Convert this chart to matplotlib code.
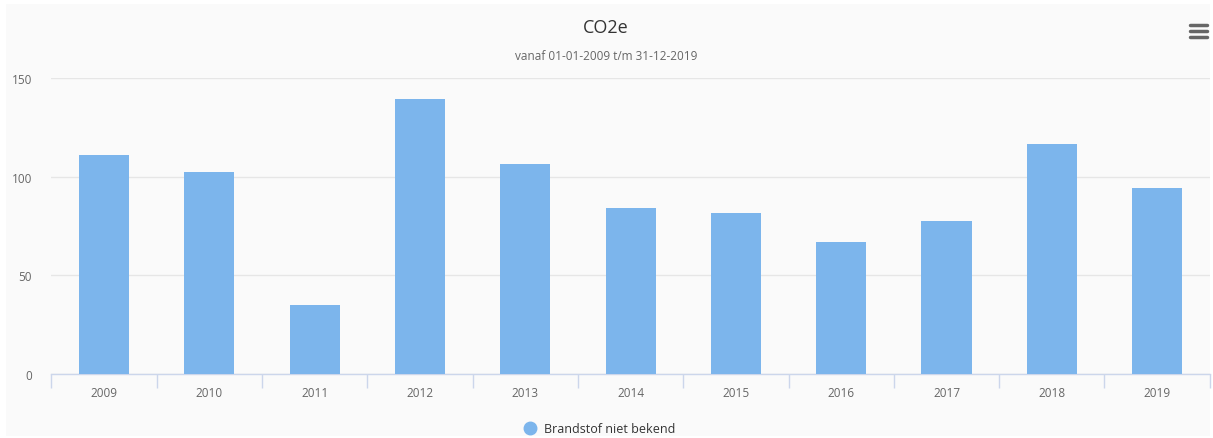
import matplotlib
matplotlib.use('Agg')
import matplotlib.pyplot as plt
from matplotlib.patches import Rectangle

plt.rcParams['font.family'] = ['Open Sans', 'DejaVu Sans']

# Data
years = ['2009', '2010', '2011', '2012', '2013', '2014', '2015', '2016', '2017', '2018', '2019']
co2e = [111, 102.5, 35, 139.5, 106.5, 84.3, 81.7, 67, 77.7, 116.8, 94.4]
yticks = [0, 50, 100, 150]
series_name = 'Brandstof niet bekend'

W, H = 1213, 439
fig = plt.figure(figsize=(W / 100, H / 100), dpi=100)
fig.patch.set_facecolor('white')

# light panel behind the chart
fig.patches.append(Rectangle((6 / W, 2 / H), 1204 / W, 432 / H,
                             transform=fig.transFigure, facecolor='#fafafa',
                             edgecolor='none', zorder=-10))

ax = fig.add_axes([51.3 / W, 64 / H, 1158.5 / W, 296 / H])
ax.set_facecolor('none')

x = range(len(years))
ax.bar(x, co2e, width=0.475, color='#7cb5ec', zorder=3)

ax.set_xlim(-0.5, len(years) - 0.5)
ax.set_ylim(0, 150)
ax.set_yticks(yticks)
ax.set_yticklabels([str(v) for v in yticks])
ax.yaxis.grid(True, color='#e6e6e6', linewidth=1)
ax.tick_params(axis='y', length=0, pad=14, labelsize=8.5, labelcolor='#666666')

ax.set_xticks(list(x))
ax.set_xticklabels(years)
ax.tick_params(axis='x', length=0, pad=9, labelsize=8.5, labelcolor='#666666')
# tick marks at category boundaries
ax.set_xticks([i - 0.5 for i in range(len(years) + 1)], minor=True)
ax.tick_params(axis='x', which='minor', length=10, width=1, color='#ccd6eb')

for s in ['top', 'right', 'left']:
    ax.spines[s].set_visible(False)
ax.spines['bottom'].set_color('#ccd6eb')
ax.spines['bottom'].set_linewidth(1)

# titles
fig.text(606 / W, 1 - 28 / H, 'CO2e', ha='center', va='center', fontsize=13, color='#333333')
fig.text(606 / W, 1 - 56 / H, 'vanaf 01-01-2009 t/m 31-12-2019', ha='center', va='center',
         fontsize=8.5, color='#666666')

# legend
fig.lines.append(plt.Line2D([530 / W], [1 - 429 / H], marker='o', markersize=9,
                            color='#7cb5ec', transform=fig.transFigure))
fig.text(544 / W, 1 - 430 / H, series_name, ha='left', va='center', fontsize=9, color='#333333')

# menu icon
for yy in [26, 32, 38]:
    fig.lines.append(plt.Line2D([1190 / W, 1207 / W], [1 - yy / H, 1 - yy / H],
                                color='#666666', linewidth=2.5, solid_capstyle='round',
                                transform=fig.transFigure))

fig.savefig('out.png', dpi=100, facecolor=fig.get_facecolor())
